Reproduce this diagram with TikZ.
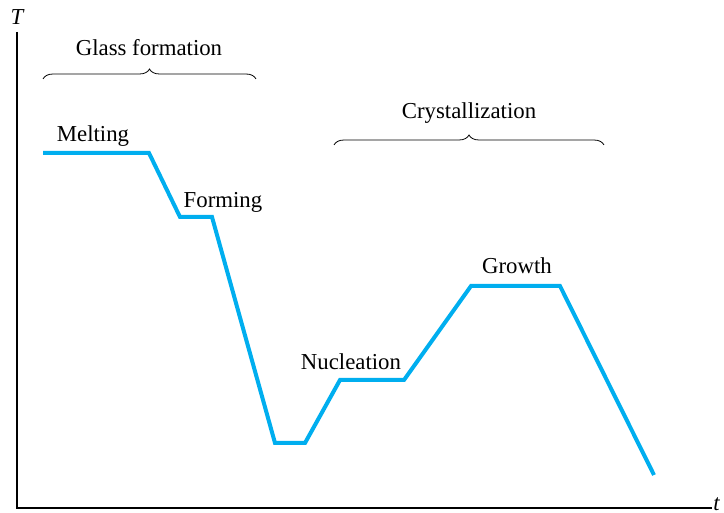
\documentclass[tikz,border=0pt]{standalone}
\usepackage{fontspec}
\setmainfont{Liberation Serif}
\usetikzlibrary{decorations.pathreplacing}
\definecolor{curveBlue}{HTML}{00AEEF}

\tikzset{
  stage/.style={font=\fontsize{11.4}{13}\selectfont, inner sep=1pt},
  phase/.style={thin, decorate, decoration={brace, amplitude=5pt}}
}

\begin{document}
\begin{tikzpicture}[x=0.5pt, y=-0.5pt]
  \useasboundingbox (0,0) rectangle (724,513);
  % axes
  \coordinate (origin) at (17,508);
  \coordinate (ytop) at (17,32);
  \coordinate (xend) at (712,508);
  \draw[line width=1pt] (ytop) -- (origin) -- (xend);
  \node[stage, font=\fontsize{11.4}{13}\selectfont\itshape] (T) at (17,17) {T};
  \node[stage, font=\fontsize{11.4}{13}\selectfont\itshape, anchor=south east, inner sep=0pt] (t) at (720,511) {t};
  % temperature history
  \coordinate (p1) at (43,153);
  \coordinate (p2) at (149,153);
  \coordinate (p3) at (180,217);
  \coordinate (p4) at (212,217);
  \coordinate (p5) at (275,443);
  \coordinate (p6) at (305,443);
  \coordinate (p7) at (340,380);
  \coordinate (p8) at (404,380);
  \coordinate (p9) at (471,286);
  \coordinate (p10) at (560,286);
  \coordinate (p11) at (654,475);
  \draw[curveBlue, line width=2pt, line join=miter] (p1) -- (p2) -- (p3) -- (p4) -- (p5) -- (p6)
    -- (p7) -- (p8) -- (p9) -- (p10) -- (p11);
  \node[stage] (melting) at (93,136) {Melting};
  \node[stage] (forming) at (223,202) {Forming};
  \node[stage] (nucleation) at (351,362) {Nucleation};
  \node[stage] (growth) at (517,266) {Growth};
  % braces
  \coordinate (gA) at (43,79);
  \coordinate (gB) at (256,79);
  \coordinate (cA) at (334,145);
  \coordinate (cB) at (604,145);
  \draw[phase] (gA) -- (gB);
  \draw[phase] (cA) -- (cB);
  \node[stage] (glass) at (149,48) {Glass formation};
  \node[stage] (cryst) at (469,113) {Crystallization};
\end{tikzpicture}
\end{document}
